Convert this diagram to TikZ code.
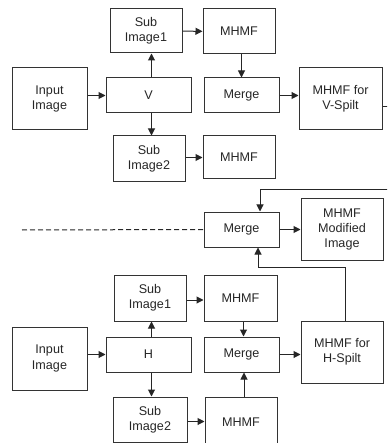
\documentclass[tikz,border=0pt]{standalone}
\usepackage{fontspec}
\setmainfont{Liberation Sans}
\usetikzlibrary{arrows.meta}
\tikzset{
	blk/.style={draw=black!80, line width=1pt, align=center, inner sep=0pt,
		text=black!85, font=\fontsize{12.6}{15.4}\selectfont},
	arr/.style={line width=1pt, draw=black!85, -{Triangle[length=7pt,width=7pt]}},
	lnk/.style={line width=1pt, draw=black!85}
}
\begin{document}
\begin{tikzpicture}[x=1pt, y=-1pt]
				\useasboundingbox (0,0) rectangle (387,443);
				\clip (0,0) rectangle (387,443);

				% V split
				\node[blk, minimum width=75pt, minimum height=62pt] (vIn) at (49.5,99) {Input\\Image};
				\node[blk, minimum width=85pt, minimum height=35pt] (vSplit) at (148.5,95.5) {V};
				\node[blk, minimum width=72pt, minimum height=44pt] (vSub1) at (146,31) {Sub\\Image1};
				\node[blk, minimum width=72pt, minimum height=45pt] (vMhmf1) at (239,31.5) {MHMF};
				\node[blk, minimum width=75pt, minimum height=35pt] (vMerge) at (241.5,95.5) {Merge};
				\node[blk, minimum width=83pt, minimum height=62pt] (vOut) at (340.5,99) {MHMF for\\V-Spilt};
				\node[blk, minimum width=72pt, minimum height=46pt] (vSub2) at (149,159) {Sub\\Image2};
				\node[blk, minimum width=72pt, minimum height=43pt] (vMhmf2) at (239,157.5) {MHMF};

				\draw[arr] (vIn.east |- vSplit) -- (vSplit);
				\draw[arr] ([xshift=3pt]vSplit.north) -- ([xshift=3pt]vSplit.north |- vSub1.south);
				\draw[arr] ([xshift=3pt]vSplit.south) -- ([xshift=3pt]vSplit.south |- vSub2.north);
				\draw[arr] (vSub1) -- (vMhmf1);
				\draw[arr] (vMhmf1.south -| vMerge) -- (vMerge);
				\draw[arr] (vMerge) -- (vMerge -| vOut.west);
				\draw[arr] (vSub2.east |- vMhmf2) -- (vMhmf2);

				% Merge of both
				\node[blk, minimum width=75pt, minimum height=35pt] (mMerge) at (241.5,229.5) {Merge};
				\node[blk, minimum width=82pt, minimum height=61pt] (mOut) at (342,229.5) {MHMF\\Modified\\Image};
				\coordinate (dashEnd) at (22,230);

				\draw[lnk, dashed, dash pattern=on 5pt off 3pt] (dashEnd) -- (mMerge.west);
				\draw[arr] (mMerge) -- (mOut);

				% H split
				\node[blk, minimum width=75pt, minimum height=63pt] (hIn) at (49.5,358.5) {Input\\Image};
				\node[blk, minimum width=85pt, minimum height=35pt] (hSplit) at (148.5,354.5) {H};
				\node[blk, minimum width=72pt, minimum height=46pt] (hSub1) at (150,298) {Sub\\Image1};
				\node[blk, minimum width=73pt, minimum height=46pt] (hMhmf1) at (240.5,298) {MHMF};
				\node[blk, minimum width=75pt, minimum height=35pt] (hMerge) at (241.5,354.5) {Merge};
				\node[blk, minimum width=82pt, minimum height=62pt] (hOut) at (342,352) {MHMF for\\H-Spilt};
				\node[blk, minimum width=74pt, minimum height=45pt] (hSub2) at (150,419.5) {Sub\\Image2};
				\node[blk, minimum width=72pt, minimum height=50pt] (hMhmf2) at (241,422) {MHMF};

				\draw[arr] (hIn.east |- hSplit) -- (hSplit);
				\draw[arr] ([xshift=3pt]hSplit.north) -- ([xshift=3pt]hSplit.north |- hSub1.south);
				\draw[arr] ([xshift=3pt]hSplit.south) -- ([xshift=3pt]hSplit.south |- hSub2.north);
				\draw[arr] ([yshift=-2pt]hSub1.east) -- ([yshift=-2pt]hSub1.east -| hMhmf1.west);
				\draw[arr] ([xshift=3pt]hMhmf1.south) -- ([xshift=3pt]hMhmf1.south |- hMerge.north);
				\draw[arr] ([xshift=3pt]hMhmf2.north) -- ([xshift=3pt]hMhmf2.north |- hMerge.south);
				\draw[arr] (hMerge) -- (hMerge -| hOut.west);
				\draw[arr] ([yshift=-2pt]hSub2.east) -- ([yshift=-2pt]hSub2.east -| hMhmf2.west);

				% feedback into merge
				\draw[arr] ([yshift=-8pt]vOut.east) -- ++(12,0) |- (260,190) -- (260,190 |- mMerge.north);
				\draw[arr] ([xshift=3pt]hOut.north) |- (258,267) -- (258,267 |- mMerge.south);
\end{tikzpicture}
\end{document}
